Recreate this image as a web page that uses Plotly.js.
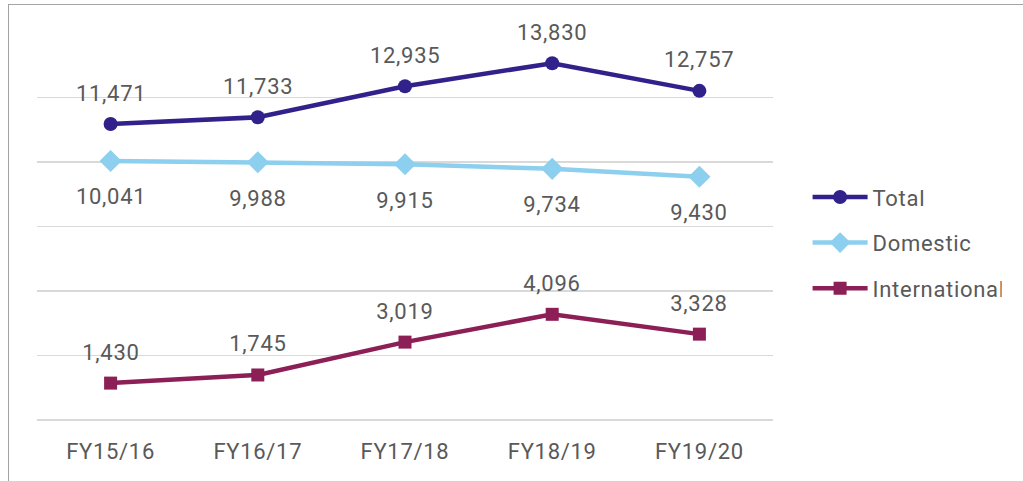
<!DOCTYPE html>
<html><head><meta charset="utf-8">
<script src="https://cdn.plot.ly/plotly-3.0.1.min.js"></script>
<style>
html,body{margin:0;padding:0;background:#fff;}
#wrap{position:relative;width:1023px;height:481px;overflow:hidden;}
#chart{position:absolute;left:0;top:0;width:1023px;height:481px;}
#chart svg text{letter-spacing:0.7px;}
#frame{position:absolute;left:8px;top:4px;width:1100px;height:600px;border-left:1px solid #a3a3a3;border-top:1px solid #a3a3a3;pointer-events:none;}
</style></head>
<body><div id="wrap"><div id="chart"></div><div id="frame"></div></div>
<script>
const categories = ["FY15/16","FY16/17","FY17/18","FY18/19","FY19/20"];
const total = [11471, 11733, 12935, 13830, 12757];
const domestic = [10041, 9988, 9915, 9734, 9430];
const international = [1430, 1745, 3019, 4096, 3328];
const seriesNames = ["Total","Domestic","International"];

const colors = {Total:"#31218a", Domestic:"#8ccfee", International:"#8b1f56"};
const font = "Roboto, 'Open Sans', sans-serif";
const txtColor = "#595959";

function mk(name, ys, symbol, size, group){
  return {type:"scatter", mode:"lines+markers", name:name, x:categories, y:ys,
    legendgroup:group,
    line:{color:colors[name], width:4.5},
    marker:{color:colors[name], symbol:symbol, size:size}};
}
const traces = [
  mk(seriesNames[0], total, "circle", 14, "a"),
  mk(seriesNames[1], domestic, "diamond", 17, "b"),
  mk(seriesNames[2], international, "square", 13, "c")
];

const fmt = v => v.toLocaleString("en-US");
const annotations = [];
[[total,31],[domestic,-36],[international,31]].forEach(([arr,shift])=>{
  arr.forEach((v,i)=>annotations.push({x:categories[i], y:v, xref:"x", yref:"y",
    text:fmt(v), showarrow:false, yshift:shift,
    font:{family:font, size:22, color:txtColor}}));
});

const layout = {
  width:1023, height:481,
  margin:{l:37, r:250, t:33, b:61},
  paper_bgcolor:"#fff", plot_bgcolor:"#fff",
  showlegend:true,
  legend:{x:1.047, y:0.63, xanchor:"left", yanchor:"top", traceorder:"grouped",
    tracegroupgap:14, itemwidth:55,
    font:{family:font, size:22, color:txtColor}},
  xaxis:{type:"category", range:[-0.5,4.5], showgrid:false, zeroline:false, showline:false,
    ticks:"", ticklabelstandoff:16,
    tickfont:{family:font, size:22, color:txtColor}, fixedrange:true},
  yaxis:{range:[0,15000], dtick:2500, showticklabels:false, gridcolor:"#d9d9d9", gridwidth:1.5,
    zeroline:true, zerolinecolor:"#d9d9d9", zerolinewidth:1.5, showline:false, ticks:"", fixedrange:true},
  annotations:annotations
};
Plotly.newPlot("chart", traces, layout, {displayModeBar:false, staticPlot:true});
</script></body></html>
